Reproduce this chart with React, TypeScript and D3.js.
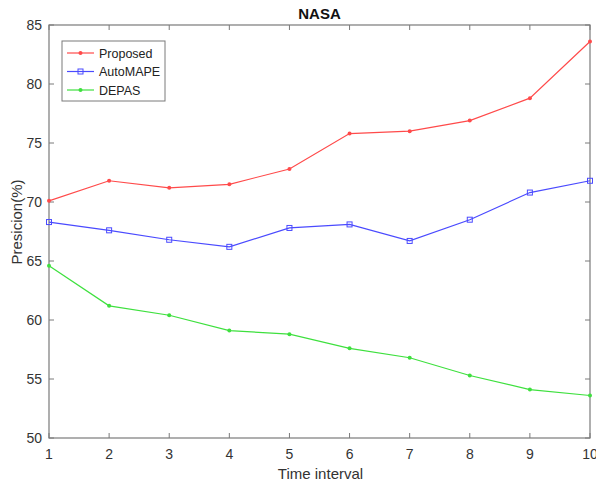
import * as React from 'react';
import * as d3 from 'd3';

const intervals = [1, 2, 3, 4, 5, 6, 7, 8, 9, 10];
const proposed = [70.1, 71.8, 71.2, 71.5, 72.8, 75.8, 76.0, 76.9, 78.8, 83.6];
const autoMape = [68.3, 67.6, 66.8, 66.2, 67.8, 68.1, 66.7, 68.5, 70.8, 71.8];
const depas = [64.6, 61.2, 60.4, 59.1, 58.8, 57.6, 56.8, 55.3, 54.1, 53.6];
const yTicks = [50, 55, 60, 65, 70, 75, 80, 85];
const seriesNames = ['Proposed', 'AutoMAPE', 'DEPAS'];

const W = 596;
const H = 484;
const margin = { top: 25, right: 6, bottom: 46, left: 49 };
const font = 'Liberation Sans, Arial, sans-serif';
const axisColor = '#7a7a7a';

export default function App() {
  const ref = React.useRef<SVGSVGElement | null>(null);

  React.useEffect(() => {
    if (!ref.current) return;
    const svg = d3.select(ref.current);
    svg.selectAll('*').remove();

    const x = d3.scaleLinear().domain([1, 10]).range([margin.left, W - margin.right]);
    const y = d3.scaleLinear().domain([50, 85]).range([H - margin.bottom, margin.top]);

    const series = [
      { name: seriesNames[0], values: proposed, color: '#ff4a4a', marker: 'dot' },
      { name: seriesNames[1], values: autoMape, color: '#4a4aff', marker: 'square' },
      { name: seriesNames[2], values: depas, color: '#3ee03e', marker: 'dot' },
    ];

    // box
    svg.append('rect')
      .attr('x', x(1)).attr('y', y(85))
      .attr('width', x(10) - x(1)).attr('height', y(50) - y(85))
      .attr('fill', 'white').attr('stroke', axisColor).attr('stroke-width', 1.2);

    // ticks, inward on all four sides
    const tl = 5;
    const g = svg.append('g').attr('stroke', axisColor).attr('stroke-width', 1);
    intervals.forEach(v => {
      g.append('line').attr('x1', x(v)).attr('x2', x(v)).attr('y1', y(50)).attr('y2', y(50) - tl);
      g.append('line').attr('x1', x(v)).attr('x2', x(v)).attr('y1', y(85)).attr('y2', y(85) + tl);
    });
    yTicks.forEach(v => {
      g.append('line').attr('x1', x(1)).attr('x2', x(1) + tl).attr('y1', y(v)).attr('y2', y(v));
      g.append('line').attr('x1', x(10)).attr('x2', x(10) - tl).attr('y1', y(v)).attr('y2', y(v));
    });

    // tick labels
    svg.append('g').selectAll('text').data(intervals).join('text')
      .attr('x', d => x(d)).attr('y', y(50) + 21)
      .attr('text-anchor', 'middle')
      .attr('font-family', font).attr('font-size', 14).attr('fill', '#333')
      .text(d => String(d));
    svg.append('g').selectAll('text').data(yTicks).join('text')
      .attr('x', x(1) - 7).attr('y', d => y(d) + 5)
      .attr('text-anchor', 'end')
      .attr('font-family', font).attr('font-size', 14).attr('fill', '#333')
      .text(d => String(d));

    // titles
    svg.append('text').attr('x', (x(1) + x(10)) / 2).attr('y', 19)
      .attr('text-anchor', 'middle').attr('font-family', font).attr('font-size', 15)
      .attr('font-weight', 'bold').attr('fill', '#111').text('NASA');
    svg.append('text').attr('x', (x(1) + x(10)) / 2 + 1).attr('y', 479)
      .attr('text-anchor', 'middle').attr('font-family', font).attr('font-size', 15)
      .attr('fill', '#333').text('Time interval');
    svg.append('text')
      .attr('transform', `translate(22,222) rotate(-90)`)
      .attr('text-anchor', 'middle').attr('font-family', font).attr('font-size', 15)
      .attr('fill', '#333').text('Presicion(%)');

    // lines
    const line = d3.line<number>().x((_, i) => x(intervals[i])).y(d => y(d));
    const drawMarker = (sel: any, cx: number, cy: number, color: string, marker: string) => {
      if (marker === 'square') {
        sel.append('rect').attr('x', cx - 2.5).attr('y', cy - 2.5).attr('width', 5).attr('height', 5)
          .attr('fill', 'none').attr('stroke', color).attr('stroke-width', 1);
      } else {
        sel.append('circle').attr('cx', cx).attr('cy', cy).attr('r', 2).attr('fill', color);
      }
    };
    series.forEach(s => {
      svg.append('path').attr('d', line(s.values) || '')
        .attr('fill', 'none').attr('stroke', s.color).attr('stroke-width', 1.2);
      const mg = svg.append('g');
      s.values.forEach((v, i) => drawMarker(mg, x(intervals[i]), y(v), s.color, s.marker));
    });

    // legend
    const lg = svg.append('g');
    lg.append('rect').attr('x', 62).attr('y', 41).attr('width', 103).attr('height', 60)
      .attr('fill', 'white').attr('stroke', axisColor).attr('stroke-width', 1);
    series.forEach((s, i) => {
      const ly = 53 + i * 18.5;
      lg.append('line').attr('x1', 67).attr('x2', 94).attr('y1', ly).attr('y2', ly)
        .attr('stroke', s.color).attr('stroke-width', 1.2);
      drawMarker(lg, 80.5, ly, s.color, s.marker);
      lg.append('text').attr('x', 99).attr('y', ly + 4.5)
        .attr('font-family', font).attr('font-size', 12.5).attr('fill', '#222').text(s.name);
    });
  }, []);

  return (
    <svg ref={ref} width={W} height={H} viewBox={`0 0 ${W} ${H}`}
      style={{ position: 'absolute', left: 0, top: 0, background: 'white' }} />
  );
}
